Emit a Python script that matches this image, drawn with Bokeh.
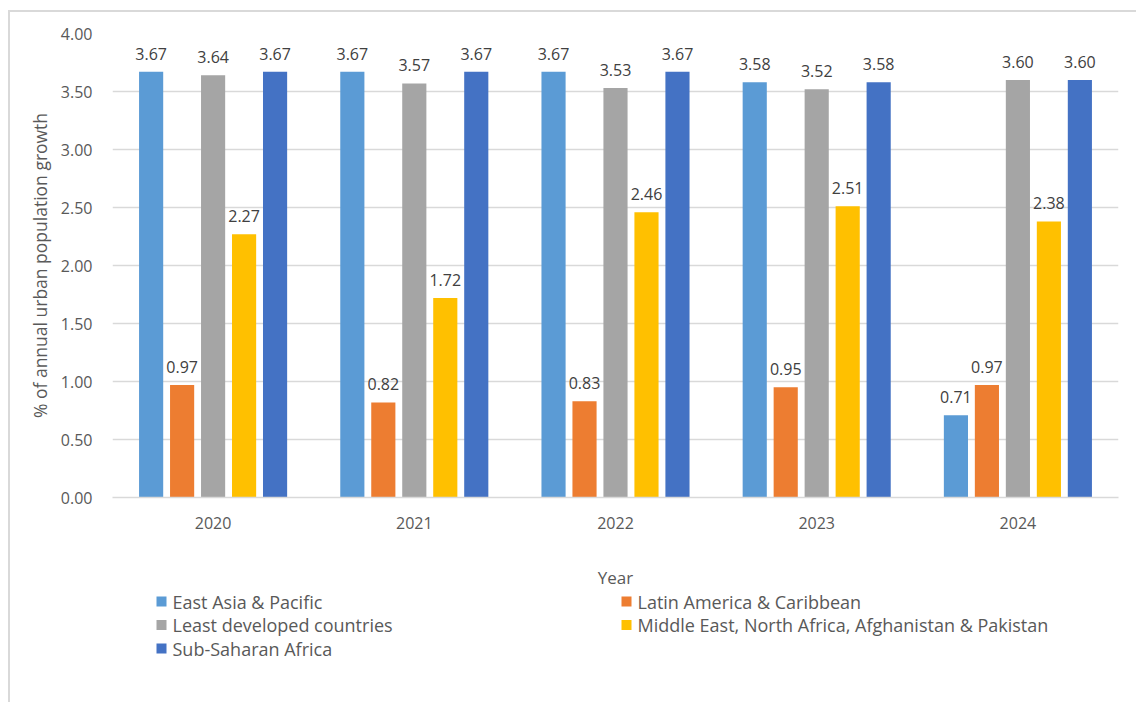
from bokeh.plotting import figure
from bokeh.models import (FactorRange, ColumnDataSource, Range1d,
                          NumeralTickFormatter, FixedTicker)
from bokeh.layouts import column
from bokeh.transform import dodge
from bokeh.core.properties import value
from bokeh.embed import file_html
from bokeh.resources import INLINE

years = ["2020", "2021", "2022", "2023", "2024"]
series_names = ["East Asia & Pacific", "Latin America & Caribbean",
                "Least developed countries",
                "Middle East, North Africa, Afghanistan & Pakistan",
                "Sub-Saharan Africa"]
east_asia = [3.67, 3.67, 3.67, 3.58, 0.71]
latin_america = [0.97, 0.82, 0.83, 0.95, 0.97]
least_developed = [3.64, 3.57, 3.53, 3.52, 3.60]
middle_east = [2.27, 1.72, 2.46, 2.51, 2.38]
sub_saharan = [3.67, 3.67, 3.67, 3.58, 3.60]
y_ticks = [0, 0.5, 1.0, 1.5, 2.0, 2.5, 3.0, 3.5, 4.0]

series_values = [east_asia, latin_america, least_developed, middle_east, sub_saharan]
colors = ["#5B9BD5", "#ED7D31", "#A5A5A5", "#FFC000", "#4472C4"]
offsets = [-0.308, -0.154, 0.0, 0.154, 0.308]

FONT = "Open Sans"
W = 1126          # inner width (page minus left margin/border)
H1 = 579          # chart part height
H2 = 111          # legend part height

p = figure(x_range=FactorRange(factors=years, range_padding=0), y_range=(0, 4),
           width=W, height=H1, output_backend="svg", toolbar_location=None,
           min_border_left=102, min_border_right=18, min_border_top=21,
           min_border_bottom=94)
p.outline_line_color = None

for vals, col, off in zip(series_values, colors, offsets):
    src = ColumnDataSource(dict(x=years, top=vals, lab=["%.2f" % v for v in vals]))
    p.vbar(x=dodge("x", off, range=p.x_range), top="top", width=0.12,
           source=src, fill_color=col, line_color=None)
    p.text(x=dodge("x", off, range=p.x_range), y="top", text="lab", source=src,
           text_align="center", text_baseline="bottom", y_offset=-12,
           text_font=value(FONT), text_font_size="16px", text_color="#404040")

p.yaxis.ticker = FixedTicker(ticks=y_ticks)
p.yaxis.formatter = NumeralTickFormatter(format="0.00")
p.ygrid.grid_line_color = "#D9D9D9"
p.ygrid.grid_line_width = 1.5
p.xgrid.grid_line_color = None
for ax in (p.xaxis, p.yaxis):
    ax.major_tick_line_color = None
    ax.minor_tick_line_color = None
    ax.major_label_text_font = FONT
    ax.major_label_text_font_size = "16px"
    ax.major_label_text_color = "#595959"
    ax.axis_label_text_font = FONT
    ax.axis_label_text_font_style = "normal"
    ax.axis_label_text_color = "#595959"
p.yaxis.axis_line_color = None
p.xaxis.axis_line_color = "#D9D9D9"
p.xaxis.axis_line_width = 1.5
p.yaxis.major_label_standoff = 14
p.xaxis.major_label_standoff = 13
p.yaxis.axis_label = "% of annual urban population growth"
p.yaxis.axis_label_text_font_size = "17.5px"
p.yaxis.axis_label_standoff = 6
p.xaxis.axis_label = "Year"
p.xaxis.axis_label_text_font_size = "17px"
p.xaxis.axis_label_standoff = 34

# legend panel: ranges set so that one unit is one page pixel
q = figure(x_range=Range1d(112, 1118), y_range=Range1d(702, 591),
           width=W, height=H2, output_backend="svg", toolbar_location=None,
           min_border_left=102, min_border_right=18,
           min_border_top=0, min_border_bottom=0)
q.axis.visible = False
q.grid.grid_line_color = None
q.outline_line_color = None

# legend layout: two columns, row-major order like the original
col_x = [161, 626]
row_y = [601, 624.5, 648]
lx, ly, lc, lt = [], [], [], []
for i, name in enumerate(series_names):
    lx.append(col_x[i % 2])
    ly.append(row_y[i // 2])
    lc.append(colors[i])
    lt.append(name)
leg_src = ColumnDataSource(dict(x=lx, y=ly, c=lc, t=lt, tx=[x + 11 for x in lx]))
q.rect(x="x", y="y", width=10, height=10, width_units="screen",
       height_units="screen", fill_color="c", line_color=None, source=leg_src)
q.text(x="tx", y="y", text="t", source=leg_src, text_baseline="middle",
       text_align="left", text_font=value(FONT), text_font_size="18px",
       text_color="#595959")

layout = column(p, q, spacing=0,
                styles={"margin-left": "8px", "margin-top": "10px",
                        "border-left": "2px solid #D9D9D9",
                        "border-top": "2px solid #D9D9D9"})

open("out.html", "w").write(file_html(layout, INLINE))
